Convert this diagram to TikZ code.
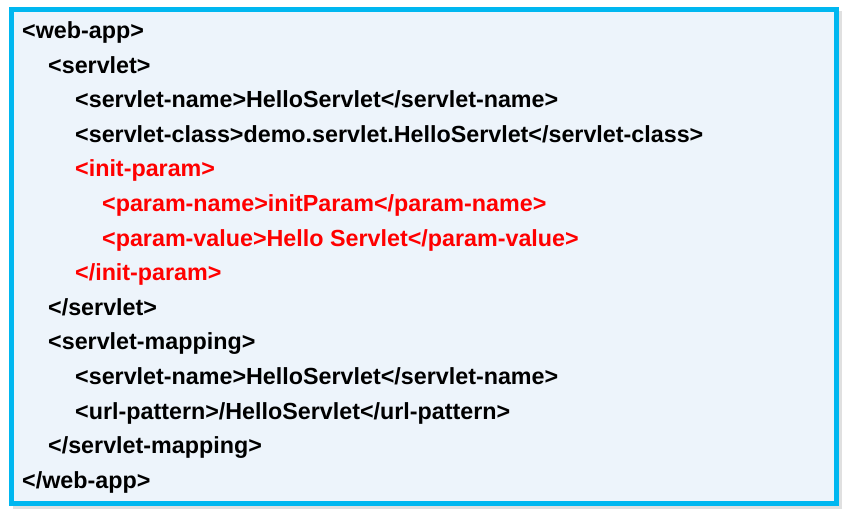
\documentclass[tikz,border=0pt]{standalone}
\usepackage{fontspec}
\setmainfont{Liberation Sans}
\definecolor{frame}{HTML}{00B7F0}
\definecolor{bg}{HTML}{EDF4FB}
\definecolor{xmlred}{HTML}{FF0000}
\tikzset{
  code/.style={anchor=base west, inner sep=0pt, font=\bfseries\fontsize{23.3}{28}\selectfont},
  red code/.style={code, text=xmlred}
}
\begin{document}
\begin{tikzpicture}[x=1pt,y=-1pt]
\useasboundingbox (0,0) rectangle (846,514);
\fill[black!12] (13,11) rectangle (842,509);
\draw[line width=4.5pt, draw=frame, fill=bg] (11.5,9.5) rectangle (836.5,503.5);
\node[code] (l1) at (22,38.5) {<web-app>};
\node[code] (l2) at (48,73.1) {<servlet>};
\node[code] (l3) at (75,107.7) {<servlet-name>HelloServlet</servlet-name>};
\node[code] (l4) at (75,142.3) {<servlet-class>demo.servlet.HelloServlet</servlet-class>};
\node[red code] (l5) at (75,176.9) {<init-param>};
\node[red code] (l6) at (102,211.5) {<param-name>initParam</param-name>};
\node[red code] (l7) at (102,246.1) {<param-value>Hello Servlet</param-value>};
\node[red code] (l8) at (75,280.7) {</init-param>};
\node[code] (l9) at (48,315.3) {</servlet>};
\node[code] (l10) at (48,349.9) {<servlet-mapping>};
\node[code] (l11) at (75,384.5) {<servlet-name>HelloServlet</servlet-name>};
\node[code] (l12) at (75,419.1) {<url-pattern>/HelloServlet</url-pattern>};
\node[code] (l13) at (48,453.7) {</servlet-mapping>};
\node[code] (l14) at (22,488.3) {</web-app>};
\end{tikzpicture}
\end{document}
